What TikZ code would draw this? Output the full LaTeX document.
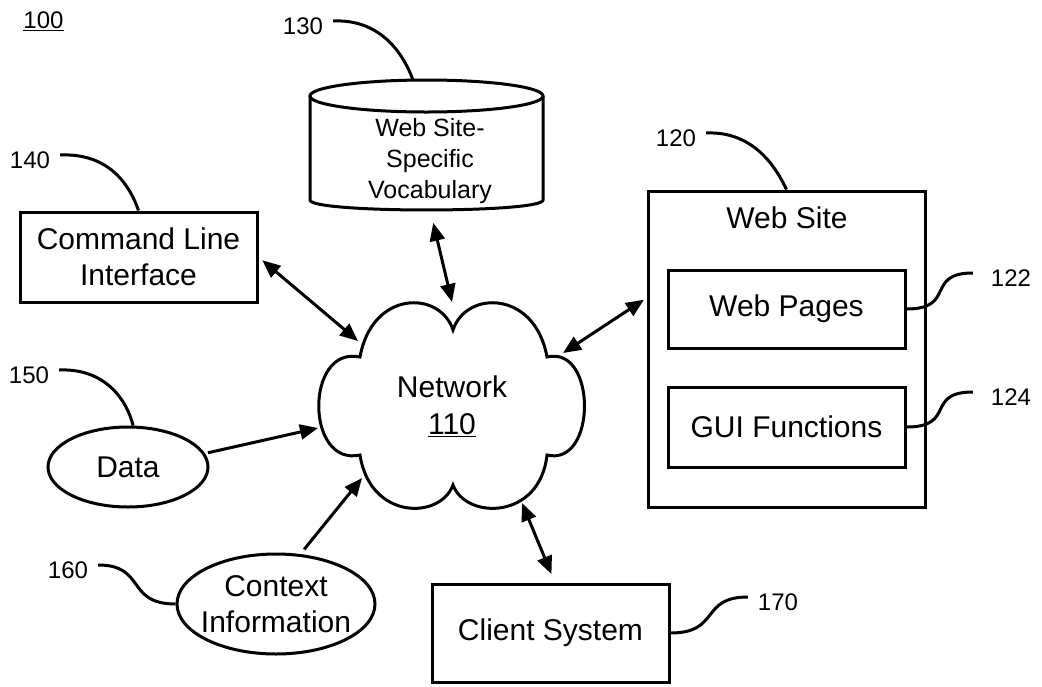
\documentclass[tikz,border=0pt]{standalone}
\usepackage{fontspec}
\setmainfont{Liberation Sans}
\usetikzlibrary{arrows.meta,shapes.geometric}

\tikzset{
	box/.style={draw, line width=3pt, minimum width=237pt, align=center, font=\fontsize{30}{36}\selectfont},
	oval/.style={draw, ellipse, line width=3pt, align=center, font=\fontsize{30}{36}\selectfont},
	reflbl/.style={font=\fontsize{24}{28}\selectfont, inner ysep=0pt, inner xsep=10pt},
	leader/.style={line width=3pt},
	link/.style={line width=3pt, -{Triangle[length=18pt,width=15pt]}},
	dlink/.style={line width=3pt, {Triangle[length=18pt,width=15pt]}-{Triangle[length=18pt,width=15pt]}},
}

\begin{document}
\begin{tikzpicture}[x=1pt, y=-1pt]
	\useasboundingbox (0,0) rectangle (1042,686); % Rand wie Vorlage
	
	% Datenbank (Zylinder)
	\draw[line width=3pt] (310,96) -- (310,200) .. controls (310,213.3) and (543,213.3) .. (543,200) -- (543,96);
	\draw[line width=3pt] (426.5,96) ellipse [x radius=116.5pt, y radius=16pt];
	\coordinate (vocabtop) at (413,80);
	\node[font=\fontsize{25}{31}\selectfont, align=center, inner sep=0pt, minimum width=233pt, minimum height=96pt] (vocab) at (430,161) {Web Site-\\Specific\\Vocabulary};
	
	% Wolke
	\draw[line width=3pt] (360,357) .. controls (372,290) and (440,290) .. (453,330)
		.. controls (466,290) and (535,290) .. (547,357)
		.. controls (597,345) and (597,467) .. (547,455)
		.. controls (540,520) and (466,520) .. (453,485)
		.. controls (440,520) and (370,520) .. (360,455)
		.. controls (305,467) and (305,345) .. (360,357) -- cycle;
	\node[font=\fontsize{30}{37}\selectfont, align=center] (net) at (452,406) {Network\\\underline{110}};
	\coordinate (netNW) at (358,341);
	\coordinate (netN) at (452,302);
	\coordinate (netNE) at (563,353);
	\coordinate (netW) at (318,428);
	\coordinate (netSW) at (362,478);
	\coordinate (netS) at (522,503);
	
	\node[box, minimum height=90pt] (cli) at (138.5,257) {Command Line\\Interface};
	
	% Web Site mit Unterboxen
	\node[box, minimum width=277pt, minimum height=316pt] (site) at (786.5,349) {};
	\node[font=\fontsize{30}{36}\selectfont] (sitettl) at (787,218) {Web Site};
	\node[box, minimum height=78pt] (pages) at (786.5,309) {Web Pages};
	\node[box, minimum height=80pt] (gui) at (786.5,427) {GUI Functions};
	
	\node[oval, minimum width=160pt, minimum height=80pt] (data) at (128,467) {Data};
	\node[oval, inner xsep=-6pt, minimum width=198pt, minimum height=100pt] (ctx) at (276,604) {Context\\Information};
	\node[box, minimum height=98pt] (client) at (550.5,633) {Client System};
	
	% Pfeile
	\draw[dlink, shorten <=5pt] (cli.east) -- (netNW);
	\draw[dlink, shorten <=14pt] (vocab.south) -- (netN);
	\draw[dlink, shorten <=3pt] (site.160.5) -- (netNE);
	\draw[link, shorten <=3pt] (data.10) -- (netW);
	\draw[link, shorten <=6pt] (ctx.64) -- (netSW);
	\draw[dlink, shorten <=9pt] (client.85) -- (netS);
	
	% Bezugszeichen
	\node[reflbl] (n100) at (43.5,21) {\underline{100}};
	\node[reflbl] (n130) at (303,26) {130};
	\node[reflbl] (n140) at (30,160) {140};
	\node[reflbl] (n150) at (29,375) {150};
	\node[reflbl] (n160) at (68,570) {160};
	\node[reflbl] (n120) at (676,138) {120};
	\node[reflbl] (n122) at (1011,278) {122};
	\node[reflbl] (n124) at (1011,397) {124};
	\node[reflbl] (n170) at (778,602) {170};
	
	\draw[leader] ([yshift=5pt]n130.east) .. controls (378,19) and (402,50) .. (vocabtop);
	\draw[leader] ([yshift=5pt]n140.east) .. controls (105,153) and (128,180) .. (cli.north);
	\draw[leader] ([yshift=5pt]n150.east) .. controls (105,368) and (127,400) .. (data.83);
	\draw[leader] ([yshift=5pt]n160.east) .. controls +(48,0) and +(-50,0) .. (ctx.west);
	\draw[leader] ([yshift=5pt]n120.east) .. controls (752,131) and (775,165) .. (site.north);
	\draw[leader] (pages.east) .. controls +(50,0) and +(-48,0) .. ([xshift=-8pt,yshift=5pt]n122.west);
	\draw[leader] (gui.east) .. controls +(50,0) and +(-48,0) .. ([xshift=-8pt,yshift=5pt]n124.west);
	\draw[leader] (client.east) .. controls +(50,0) and +(-48,0) .. ([yshift=5pt]n170.west);
\end{tikzpicture}
\end{document}
